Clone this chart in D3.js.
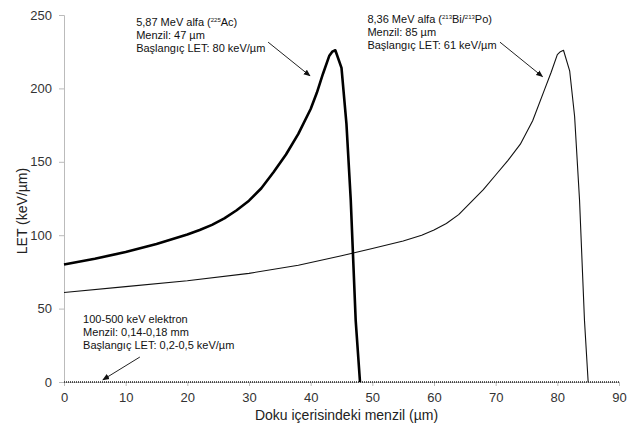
<!DOCTYPE html>
<html>
<head>
<meta charset="utf-8">
<script src="https://cdn.jsdelivr.net/npm/d3@7"></script>
<style>
body { margin: 0; background: #fff; }
svg { display: block; font-family: "Liberation Sans", Arial, sans-serif; }
</style>
</head>
<body>
<svg></svg>
<script>
var width = 631, height = 429;
var margin = {top: 15, right: 12, bottom: 47, left: 64};

// 5,87 MeV alfa (225Ac)
var acX = [0, 5, 10, 15, 20, 22, 24, 26, 28, 30, 32, 34, 36, 38, 40, 41, 42, 43, 43.5, 44, 45, 45.8, 46.5, 47.3, 48];
var acY = [80, 84, 88.5, 94, 100.5, 103.5, 107, 111.5, 117, 123.5, 132, 143, 155, 169, 186, 197, 210, 222, 225, 226, 214, 176, 124, 42, 0];

// 8,36 MeV alfa (213Bi/213Po)
var biX = [0, 10, 20, 30, 38, 45, 50, 55, 58, 60, 62, 64, 66, 68, 70, 72, 74, 76, 78, 79, 80, 80.5, 81, 82, 82.8, 83.6, 84.4, 85];
var biY = [61, 65, 69, 74, 79.5, 86, 91, 96, 100, 103.5, 108, 114, 122.5, 131, 141, 151, 162, 178, 200, 211, 223, 225, 226, 212, 181, 124, 42, 0];

// 100-500 keV elektron
var elX = [0, 90];
var elY = [0, 0];

var xTicks = [0, 10, 20, 30, 40, 50, 60, 70, 80, 90];
var yTicks = [0, 50, 100, 150, 200, 250];

var svg = d3.select("svg").attr("width", width).attr("height", height);

var x = d3.scaleLinear().domain([0, 90]).range([margin.left, width - margin.right]);
var y = d3.scaleLinear().domain([0, 250]).range([height - margin.bottom, margin.top]);

svg.append("defs").append("marker")
	.attr("id", "arr")
	.attr("viewBox", "0 0 10 10")
	.attr("refX", 9).attr("refY", 5)
	.attr("markerWidth", 7).attr("markerHeight", 7)
	.attr("orient", "auto")
	.append("path").attr("d", "M0,1 L10,5 L0,9 Z").attr("fill", "#111");

// axes
var xAxis = svg.append("g")
	.attr("transform", "translate(0," + y(0) + ")")
	.call(d3.axisBottom(x).tickValues(xTicks).tickSize(4).tickPadding(7));
var yAxis = svg.append("g")
	.attr("transform", "translate(" + x(0) + ",0)")
	.call(d3.axisLeft(y).tickValues(yTicks).tickSize(5).tickPadding(7));

[xAxis, yAxis].forEach(function(a){
	a.select(".domain").attr("stroke", "#bbb");
	a.selectAll(".tick line").attr("stroke", "#bbb");
	a.selectAll(".tick text")
	.attr("fill", "#333")
	.style("font-size", "13px")
	.style("font-family", "'Liberation Sans', Arial, sans-serif");
});

svg.append("text")
	.attr("x", (x(0) + x(90)) / 2 + 5)
	.attr("y", 420)
	.attr("text-anchor", "middle")
	.attr("fill", "#222")
	.style("font-size", "14px")
	.text("Doku içerisindeki menzil (µm)");

svg.append("text")
	.attr("transform", "translate(27," + 211 + ") rotate(-90)")
	.attr("text-anchor", "middle")
	.attr("fill", "#222")
	.style("font-size", "14px")
	.text("LET (keV/µm)");

var line = d3.line().x(d => x(d[0])).y(d => y(d[1]));

svg.append("path")
	.datum(elX.map((v, i) => [v, elY[i]]))
	.attr("d", line)
	.attr("fill", "none")
	.attr("stroke", "#222")
	.attr("stroke-width", 1.5)
	.attr("stroke-dasharray", "1,1");

svg.append("path")
	.datum(biX.map((v, i) => [v, biY[i]]))
	.attr("d", line)
	.attr("fill", "none")
	.attr("stroke", "#111")
	.attr("stroke-width", 1.1)
	.attr("stroke-linejoin", "round");

svg.append("path")
	.datum(acX.map((v, i) => [v, acY[i]]))
	.attr("d", line)
	.attr("fill", "none")
	.attr("stroke", "#000")
	.attr("stroke-width", 2.6)
	.attr("stroke-linejoin", "round");

// annotations; a part of a line is a plain string or ["sup", text]
function note(xv, yv, lines){
	lines.forEach(function(l, i){
		var t = svg.append("text")
			.attr("x", x(xv)).attr("y", y(yv) + i * 12.8)
			.attr("fill", "#111")
			.style("font-size", "11px");
		var back = 0;
		l.forEach(function(p){
			if (typeof p !== "string") {
				t.append("tspan").attr("font-size", "6px").attr("dy", -4 + back).text(p[1]);
				back = 4;
			} else {
				t.append("tspan").attr("dy", back).text(p);
				back = 0;
			}
		});
	});
}

note(11.7, 242.5, [
	["5,87 MeV alfa (", ["sup", "225"], "Ac)"],
	["Menzil: 47 µm"],
	["Başlangıç LET: 80 keV/µm"]
]);
note(49.2, 244.5, [
	["8,36 MeV alfa (", ["sup", "213"], "Bi/", ["sup", "213"], "Po)"],
	["Menzil: 85 µm"],
	["Başlangıç LET: 61 keV/µm"]
]);
note(3.1, 40, [
	["100-500 keV elektron"],
	["Menzil: 0,14-0,18 mm"],
	["Başlangıç LET: 0,2-0,5 keV/µm"]
]);

var arrows = [
	[33.1, 231.5, 39.9, 208.5],
	[70.7, 231.5, 77.6, 208],
	[12.3, 17, 6.3, 1.5]
];
svg.selectAll("line.arrow")
	.data(arrows)
	.enter()
	.append("line")
	.classed("arrow", true)
	.attr("x1", d => x(d[0])).attr("y1", d => y(d[1]))
	.attr("x2", d => x(d[2])).attr("y2", d => y(d[3]))
	.attr("stroke", "#222")
	.attr("stroke-width", 1)
	.attr("marker-end", "url(#arr)");
</script>
</body>
</html>
